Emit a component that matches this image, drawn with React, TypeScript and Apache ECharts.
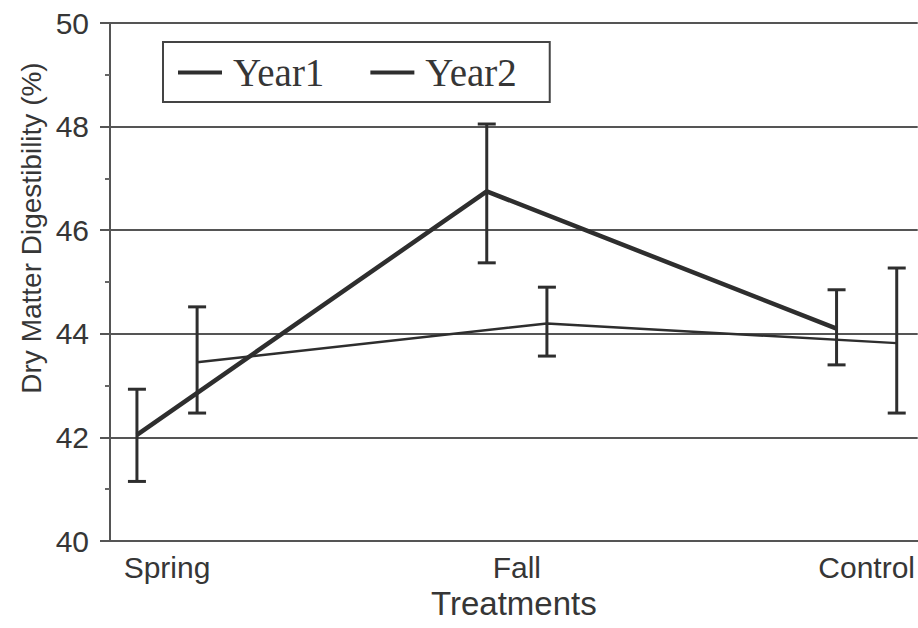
import React, { useEffect, useRef } from "react";
import * as echarts from "echarts";

const categories = ["Spring", "Fall", "Control"];
const year1Mean = [42.05, 46.75, 44.1];
const year1Low = [41.15, 45.37, 43.4];
const year1High = [42.93, 48.05, 44.85];
const year2Mean = [43.45, 44.2, 43.82];
const year2Low = [42.47, 43.57, 42.47];
const year2High = [44.52, 44.9, 45.27];
const yTicks = [40, 42, 44, 46, 48, 50];

const DODGE = 0.086;
const INK = "#2e2e2e";
const TEXT = "#363636";
const SANS = "'Liberation Sans', Arial, Helvetica, sans-serif";
const SERIF = "'Liberation Serif', 'Times New Roman', serif";

function errorBars(xs: number[], lows: number[], highs: number[], name: string) {
  return {
    type: "custom",
    name,
    z: 4,
    encode: { x: 0, y: [1, 2] },
    data: xs.map((x, i) => [x, lows[i], highs[i]]),
    renderItem: (params: any, api: any) => {
      const x = api.value(0);
      const lo = api.coord([x, api.value(1)]);
      const hi = api.coord([x, api.value(2)]);
      const half = 9;
      const style = { stroke: INK, lineWidth: 3 };
      return {
        type: "group",
        children: [
          { type: "line", shape: { x1: lo[0], y1: lo[1], x2: hi[0], y2: hi[1] }, style },
          { type: "line", shape: { x1: lo[0] - half, y1: lo[1], x2: lo[0] + half, y2: lo[1] }, style },
          { type: "line", shape: { x1: hi[0] - half, y1: hi[1], x2: hi[0] + half, y2: hi[1] }, style },
        ],
      };
    },
  };
}

export default function App() {
  const ref = useRef<HTMLDivElement>(null);
  useEffect(() => {
    if (!ref.current) return;
    const chart = echarts.init(ref.current, null, { renderer: "svg" });
    const x1 = categories.map((_, i) => i - DODGE);
    const x2 = categories.map((_, i) => i + DODGE);
    chart.setOption({
      animation: false,
      backgroundColor: "#ffffff",
      grid: { left: 110, right: 0, top: 23, bottom: 87 },
      legend: {
        left: 163,
        top: 42,
        orient: "horizontal",
        padding: [11, 33, 10, 15],
        itemGap: 46,
        itemWidth: 44,
        itemHeight: 4,
        borderColor: "#444",
        borderWidth: 2,
        borderRadius: 0,
        textStyle: { fontFamily: SERIF, fontSize: 39, color: TEXT, padding: [0, 0, 0, 6] },
        data: [
          { name: "Year1", icon: "rect" },
          { name: "Year2", icon: "rect" },
        ],
      },
      xAxis: {
        type: "value",
        min: -0.163,
        max: 2.146,
        name: "Treatments",
        nameLocation: "middle",
        nameGap: 44,
        nameTextStyle: { fontFamily: SANS, fontSize: 33, color: TEXT },
        axisLine: { show: true, onZero: false, lineStyle: { color: "#555", width: 2 } },
        axisTick: { show: false },
        splitLine: { show: false },
        axisLabel: {
          customValues: [0, 1, 2],
          formatter: (v: number) => categories[Math.round(v)] ?? "",
          fontFamily: SANS,
          fontSize: 30,
          color: TEXT,
          margin: 11,
        },
      },
      yAxis: {
        type: "value",
        min: yTicks[0],
        max: yTicks[yTicks.length - 1],
        interval: 2,
        axisLine: { show: true, onZero: false, lineStyle: { color: "#555", width: 2 } },
        axisTick: { show: true, length: 10, lineStyle: { color: "#555", width: 2 } },
        minorTick: { show: true, splitNumber: 2, length: 5, lineStyle: { color: "#666", width: 2 } },
        splitLine: { show: true, lineStyle: { color: "#555", width: 2 } },
        axisLabel: { fontFamily: SANS, fontSize: 30, color: TEXT, margin: 21 },
      },
      graphic: [
        {
          type: "text",
          x: 31,
          y: 228,
          rotation: Math.PI / 2,
          style: {
            text: "Dry Matter Digestibility (%)",
            fontFamily: SANS,
            fontSize: 28,
            fill: TEXT,
            align: "center",
            verticalAlign: "middle",
          },
        },
      ],
      series: [
        {
          type: "line",
          name: "Year1",
          z: 5,
          data: x1.map((x, i) => [x, year1Mean[i]]),
          symbol: "none",
          color: INK,
          lineStyle: { color: INK, width: 4.5 },
        },
        {
          type: "line",
          name: "Year2",
          z: 5,
          data: x2.map((x, i) => [x, year2Mean[i]]),
          symbol: "none",
          color: INK,
          lineStyle: { color: INK, width: 2.5 },
        },
        errorBars(x1, year1Low, year1High, "Year1 error"),
        errorBars(x2, year2Low, year2High, "Year2 error"),
      ],
    });
    return () => chart.dispose();
  }, []);
  return (
    <div
      ref={ref}
      style={{ position: "fixed", left: 0, top: 0, width: 918, height: 628, background: "#fff" }}
    />
  );
}
